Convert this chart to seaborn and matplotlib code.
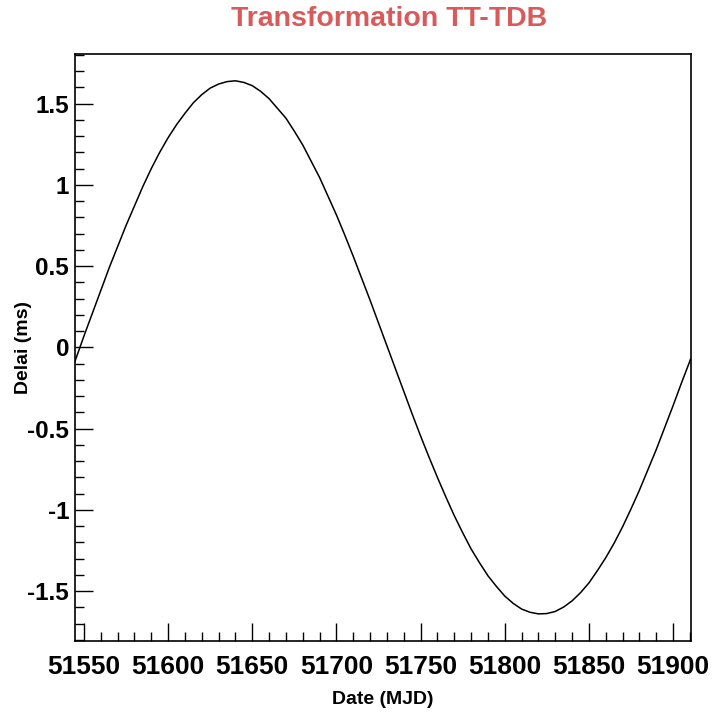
import pandas as pd
import matplotlib.pyplot as plt
import seaborn as sns
from matplotlib.ticker import MultipleLocator

sns.set_theme(style="white")
plt.rcParams['font.family'] = ['Liberation Sans', 'DejaVu Sans']
plt.rcParams['font.weight'] = 'bold'
plt.rcParams['text.color'] = 'black'
plt.rcParams['axes.labelcolor'] = 'black'
plt.rcParams['xtick.color'] = 'black'
plt.rcParams['ytick.color'] = 'black'

# TT-TDB delay (ms), every 5 days plus both ends
mjd = [51544.5, 51550, 51555, 51560, 51565, 51570, 51575, 51580, 51585, 51590,
       51595, 51600, 51605, 51610, 51615, 51620, 51625, 51630, 51635, 51640,
       51645, 51650, 51655, 51660, 51665, 51670, 51675, 51680, 51685, 51690,
       51695, 51700, 51705, 51710, 51715, 51720, 51725, 51730, 51735, 51740,
       51745, 51750, 51755, 51760, 51765, 51770, 51775, 51780, 51785, 51790,
       51795, 51800, 51805, 51810, 51815, 51820, 51825, 51830, 51835, 51840,
       51845, 51850, 51855, 51860, 51865, 51870, 51875, 51880, 51885, 51890,
       51895, 51900, 51905, 51910, 51910.5]
delay_ms = [-0.09, 0.07, 0.21, 0.35, 0.49, 0.62, 0.75, 0.87, 0.99, 1.10,
            1.20, 1.29, 1.37, 1.44, 1.505, 1.555, 1.595, 1.62, 1.635, 1.64,
            1.63, 1.61, 1.575, 1.53, 1.47, 1.41, 1.33, 1.245, 1.145, 1.045,
            0.93, 0.815, 0.69, 0.56, 0.425, 0.29, 0.15, 0.01, -0.13, -0.27,
            -0.41, -0.545, -0.675, -0.80, -0.92, -1.035, -1.14, -1.24, -1.325, -1.405,
            -1.47, -1.53, -1.575, -1.61, -1.63, -1.64, -1.638, -1.625, -1.598, -1.56,
            -1.51, -1.45, -1.375, -1.295, -1.205, -1.105, -0.995, -0.88, -0.755, -0.63,
            -0.495, -0.36, -0.22, -0.085, -0.07]

title = 'Transformation TT-TDB'
xlabel = 'Date (MJD)'
ylabel = 'Delai (ms)'

df = pd.DataFrame({'mjd': mjd, 'delay': delay_ms})

fig = plt.figure(figsize=(7.13, 7.15), dpi=100)
ax = fig.add_axes([0.1048, 0.1039, 0.8639, 0.8206])

sns.lineplot(data=df, x='mjd', y='delay', ax=ax, color='black', linewidth=1.1)

ax.set_xlim(51544.5, 51910.5)
ax.set_ylim(-1.805, 1.805)

ax.xaxis.set_major_locator(MultipleLocator(50))
ax.xaxis.set_minor_locator(MultipleLocator(10))
ax.yaxis.set_major_locator(MultipleLocator(0.5))
ax.yaxis.set_minor_locator(MultipleLocator(0.1))
ax.yaxis.set_major_formatter(plt.FuncFormatter(lambda v, p: f'{v:g}'))

ax.tick_params(which='both', direction='in', bottom=True, left=True, top=False, right=False,
               color='black', width=1)
ax.tick_params(which='major', length=13)
ax.tick_params(which='minor', length=6.5)
ax.tick_params(axis='x', which='major', labelsize=19, pad=10)
ax.tick_params(axis='y', which='major', labelsize=17.5, pad=4)

for spine in ax.spines.values():
    spine.set_color('black')
    spine.set_linewidth(1.2)

ax.set_xlabel(xlabel, fontsize=14, fontweight='bold', labelpad=9)
ax.set_ylabel(ylabel, fontsize=14, fontweight='bold')
ax.yaxis.set_label_coords(-0.069, 0.5)
fig.text(0.545, 0.973, title, ha='center', va='center', fontsize=20.5,
         fontweight='bold', color='#d95a5a')

fig.savefig('out.png', dpi=100)
